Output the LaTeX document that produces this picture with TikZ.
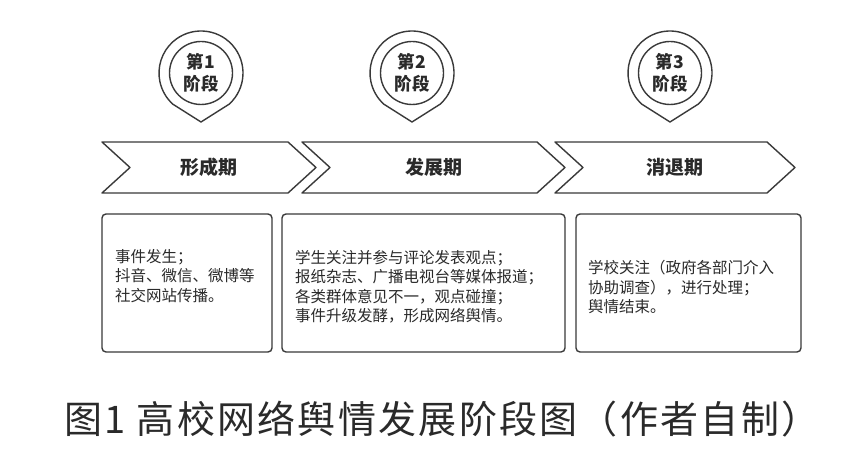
\documentclass[tikz,border=0pt]{standalone}
\usepackage{fontspec}
\setmainfont{Noto Sans CJK SC}
\definecolor{ln}{HTML}{3A3A3A}
\definecolor{tx}{HTML}{2A2A2A}
\begin{document}
\begin{tikzpicture}[x=1pt,y=1pt,line join=round,
  shp/.style={draw=ln,line width=1.4pt},
  pintext/.style={font=\bfseries\fontsize{17.5}{21.5}\selectfont,align=center,text=tx,inner sep=0pt},
  chtext/.style={font=\bfseries\fontsize{19}{22}\selectfont,text=tx,inner sep=0pt},
  boxnode/.style={shp,rounded corners=4pt,inner sep=0pt},
  bxtext/.style={font=\fontsize{15.5}{19.5}\selectfont,align=left,text=tx,inner sep=0pt,anchor=west},
  captext/.style={font=\fontsize{38}{40}\selectfont\addfontfeature{LetterSpace=6},text=tx,inner sep=0pt}]
\fill[white] (0,0) rectangle (857,452);
\useasboundingbox (0,0) rectangle (857,452);
% pins
\foreach \cx/\n/\lbl in {201/p1/1,412/p2/2,670/p3/3}{
  \draw[shp] (\cx,379) ++(-48:42) arc[start angle=-48,end angle=228,radius=42] -- (\cx,330) -- cycle;
  \draw[shp] (\cx,379) circle[radius=31.5];
  \node[pintext] (\n) at (\cx,379) {第\lbl\\阶段};
}
% chevrons
\foreach \l/\r/\n/\t in {102/288/c1/形成期,302/537/c2/发展期,555/767/c3/消退期}{
  \draw[shp] (\l,310) -- (\r,310) -- (\r+28,284.5) -- (\r,259) -- (\l,259) -- (\l+28,284.5) -- cycle;
  \node[chtext] (\n) at ({(\l+28+\r)/2},284.5) {\t};
}
% boxes
\node[boxnode,minimum width=170pt,minimum height=138pt] (b1) at (187,169) {};
\node[boxnode,minimum width=283pt,minimum height=138pt] (b2) at (423.5,169) {};
\node[boxnode,minimum width=225pt,minimum height=138pt] (b3) at (688.5,169) {};
\node[bxtext] (t1) at (115,176) {事件发生；\\抖音、微信、微博等\\社交网站传播。};
\node[bxtext] (t2) at (295,165) {学生关注并参与评论发表观点；\\报纸杂志、广播电视台等媒体报道；\\各类群体意见不一，观点碰撞；\\事件升级发酵，形成网络舆情。};
\node[bxtext] (t3) at (588,165) {学校关注（政府各部门介入\\协助调查），进行处理；\\舆情结束。};
% caption
\node[captext] (cap) at (442,33) {图1 高校网络舆情发展阶段图（作者自制）};
\end{tikzpicture}
\end{document}
